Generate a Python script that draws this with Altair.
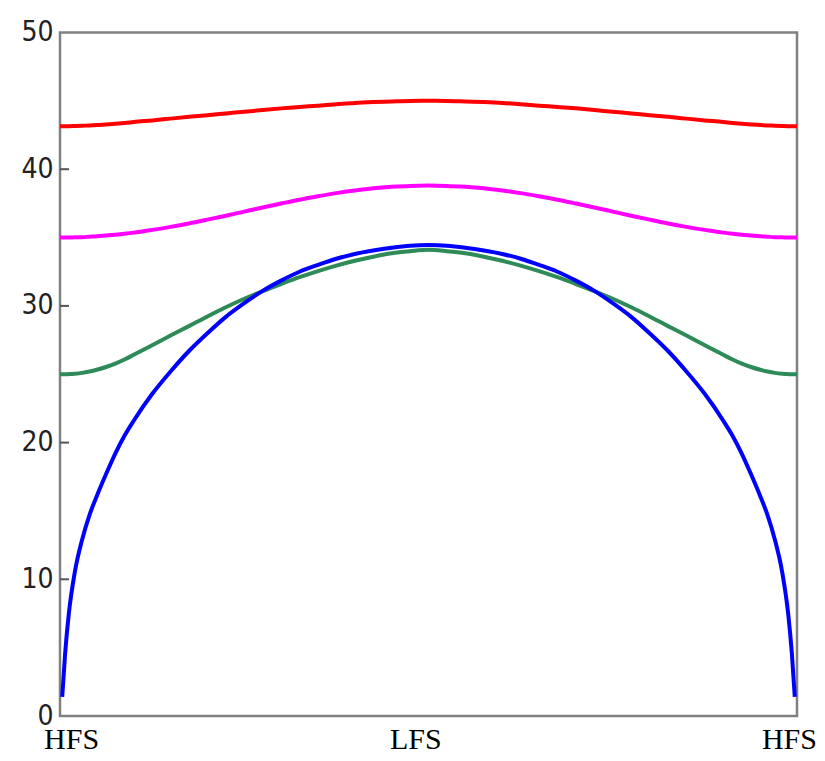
import altair as alt
import pandas as pd

# Position along the flux surface (0 = HFS, 0.5 = LFS, 1 = HFS)
X = [0, 0.003, 0.007, 0.012, 0.02, 0.03, 0.04, 0.05, 0.0625, 0.075, 0.0875, 0.1, 0.125, 0.15,
     0.175, 0.2, 0.225, 0.25, 0.275, 0.3, 0.325, 0.35, 0.375, 0.4, 0.425, 0.45, 0.475, 0.5,
     0.525, 0.55, 0.575, 0.6, 0.625, 0.65, 0.675, 0.7, 0.725, 0.75, 0.775, 0.8, 0.825, 0.85,
     0.875, 0.9, 0.9125, 0.925, 0.9375, 0.95, 0.96, 0.97, 0.98, 0.988, 0.993, 0.997, 1.0]

RED = [43.15, 43.15, 43.15, 43.15, 43.16, 43.18, 43.2, 43.23, 43.27, 43.32, 43.38, 43.45, 43.57, 43.7,
       43.83, 43.95, 44.08, 44.2, 44.33, 44.45, 44.55, 44.65, 44.75, 44.85, 44.91, 44.95, 44.99, 45.0,
       44.99, 44.95, 44.91, 44.85, 44.75, 44.65, 44.55, 44.45, 44.33, 44.2, 44.08, 43.95, 43.83, 43.7,
       43.57, 43.45, 43.38, 43.32, 43.27, 43.23, 43.2, 43.18, 43.16, 43.15, 43.15, 43.15, 43.15]

MAGENTA = [35.0, 35.0, 35.0, 35.0, 35.02, 35.03, 35.06, 35.09, 35.15, 35.21, 35.28, 35.36, 35.56, 35.78,
           36.03, 36.31, 36.6, 36.9, 37.2, 37.49, 37.77, 38.02, 38.25, 38.44, 38.6, 38.71, 38.78, 38.8,
           38.78, 38.71, 38.6, 38.44, 38.25, 38.02, 37.77, 37.49, 37.2, 36.9, 36.6, 36.31, 36.03, 35.78,
           35.56, 35.36, 35.28, 35.21, 35.15, 35.09, 35.06, 35.03, 35.02, 35.0, 35.0, 35.0, 35.0]

GREEN = [25.0, 25.0, 25.0, 25.01, 25.04, 25.1, 25.2, 25.33, 25.53, 25.78, 26.08, 26.42, 27.12, 27.83,
         28.52, 29.23, 29.9, 30.52, 31.08, 31.6, 32.1, 32.55, 32.95, 33.3, 33.6, 33.85, 34.0, 34.1,
         34.0, 33.85, 33.6, 33.3, 32.95, 32.55, 32.1, 31.6, 31.08, 30.52, 29.9, 29.23, 28.52, 27.83,
         27.12, 26.42, 26.08, 25.78, 25.53, 25.33, 25.2, 25.1, 25.04, 25.01, 25.0, 25.0, 25.0]

BLUE = [None, 1.4, 4.6, 7.5, 10.5, 12.9, 14.7, 16.1, 17.7, 19.2, 20.5, 21.6, 23.55, 25.2,
        26.7, 28.0, 29.2, 30.2, 31.1, 31.85, 32.5, 33.0, 33.45, 33.8, 34.05, 34.25, 34.4, 34.45,
        34.4, 34.25, 34.05, 33.8, 33.45, 33.0, 32.5, 31.85, 31.1, 30.2, 29.2, 28.0, 26.7, 25.2,
        23.55, 21.6, 20.5, 19.2, 17.7, 16.1, 14.7, 12.9, 10.5, 7.5, 4.6, 1.4, None]

SERIES_NAMES = ["red", "magenta", "green", "blue"]
SERIES_VALUES = [RED, MAGENTA, GREEN, BLUE]
SERIES_COLORS = ["#ff0000", "#ff00ff", "#2e8b57", "#0000ff"]

Y_TICKS = [0, 10, 20, 30, 40, 50]
X_LABEL_POS = [0.015, 0.482, 0.989]
X_LABELS = ["HFS", "LFS", "HFS"]

rows = []
for name, vals in zip(SERIES_NAMES, SERIES_VALUES):
    for x, v in zip(X, vals):
        if v is not None:
            rows.append({"series": name, "x": x, "v": v})
df = pd.DataFrame(rows)

x_scale = alt.Scale(domain=[0, 1], nice=False, zero=False)
y_scale = alt.Scale(domain=[0, 50], nice=False)

label_expr = " : ".join(
    [f"abs(datum.value - {p}) < 0.005 ? '{t}'" for p, t in zip(X_LABEL_POS, X_LABELS)]
) + " : ''"

x_axis = alt.Axis(values=X_LABEL_POS, labelExpr=label_expr, ticks=False, domain=False, grid=False,
                  title=None, labelFont="Liberation Serif", labelFontSize=30, labelColor="#000000",
                  labelPadding=8, labelFlush=False, labelOverlap=False, labelAngle=0, labelBound=False)
y_axis = alt.Axis(values=Y_TICKS, ticks=False, domain=False, grid=False, title=None,
                  labelFont="Liberation Sans Narrow, DejaVu Sans Condensed, Liberation Sans",
                  labelFontSize=28, labelColor="#222222", labelPadding=7, labelFlush=False,
                  labelOverlap=False)

layers = []
for name, color in zip(SERIES_NAMES, SERIES_COLORS):
    layers.append(
        alt.Chart(df).transform_filter(alt.datum.series == name)
        .mark_line(color=color, strokeWidth=4, interpolate="monotone", clip=True)
        .encode(x=alt.X("x:Q", scale=x_scale, axis=x_axis),
                y=alt.Y("v:Q", scale=y_scale, axis=y_axis))
    )

tick_df = pd.DataFrame({"t": Y_TICKS[1:-1]})
ticks = alt.Chart(tick_df).mark_rule(color="#555555", strokeWidth=2).encode(
    y=alt.Y("t:Q", scale=y_scale, axis=y_axis),
    x=alt.value(0), x2=alt.value(9)
)

chart = alt.layer(ticks, *layers).properties(
    width=737, height=683.5,
    autosize=alt.AutoSizeParams(type="none"),
    padding={"left": 52, "top": 24.5, "right": 20, "bottom": 37},
    background="#ffffff",
).configure_view(stroke="#808080", strokeWidth=2.5)

chart.save("out.html", embed_options={"renderer": "svg", "actions": False})
